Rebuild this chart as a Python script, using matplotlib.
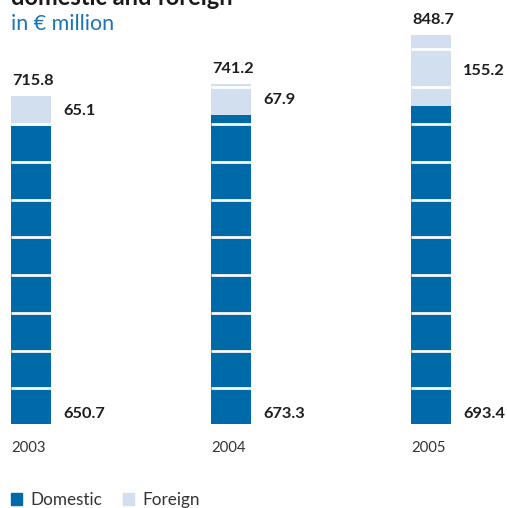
import matplotlib
matplotlib.use("Agg")
import matplotlib.pyplot as plt
from matplotlib.patches import Patch

plt.rcParams['font.family'] = ['Lato', 'DejaVu Sans']

years = ["2003", "2004", "2005"]
domestic = [650.7, 673.3, 693.4]
foreign = [65.1, 67.9, 155.2]
totals = [715.8, 741.2, 848.7]

DARK = "#0069a8"
LIGHT = "#d2dfee"
TXT = "#1e1e1e"

W, H = 507, 508
fig = plt.figure(figsize=(W / 100, H / 100), dpi=100)
base_px = 424
scale = 0.4584  # px per unit
ax = fig.add_axes([0, (H - base_px) / H, 1, base_px / H])
ax.set_xlim(-31 / 200, (W - 31) / 200)
ax.set_ylim(0, base_px / scale)
ax.axis("off")

x = list(range(len(years)))
bw = 0.2
b1 = ax.bar(x, domestic, width=bw, color=DARK, label="Domestic", zorder=1)
b2 = ax.bar(x, foreign, width=bw, bottom=domestic, color=LIGHT, label="Foreign", zorder=1)

# white separators across bars
gap_offset, gap_step = 78.1, 82.2
for xi, tot in zip(x, totals):
    ys = [gap_offset + gap_step * k for k in range(12) if gap_offset + gap_step * k < tot]
    ax.hlines(ys, xi - bw / 2, xi + bw / 2, color="white", lw=1.95, zorder=2)

NUM_FS = 11.8
for xi, d, f, t, yr in zip(x, domestic, foreign, totals, years):
    ax.annotate(f"{t:.1f}", xy=(xi - bw / 2, t), xytext=(1, 11), textcoords="offset pixels",
                ha="left", va="baseline", fontsize=NUM_FS, fontweight="bold", color=TXT,
                annotation_clip=False)
    ax.annotate(f"{f:.1f}", xy=(xi + bw / 2, d + f / 2), xytext=(12, 0), textcoords="offset pixels",
                ha="left", va="center", fontsize=NUM_FS, fontweight="bold", color=TXT,
                annotation_clip=False)
    ax.annotate(f"{d:.1f}", xy=(xi + bw / 2, 0), xytext=(12, 6), textcoords="offset pixels",
                ha="left", va="baseline", fontsize=NUM_FS, fontweight="bold", color=TXT,
                annotation_clip=False)
    ax.annotate(yr, xy=(xi - bw / 2, 0), xytext=(0, -28), textcoords="offset pixels",
                ha="left", va="baseline", fontsize=10.7, color="#333333",
                annotation_clip=False)

fig.text(11 / W, 1 - 5 / H, "domestic and foreign", ha="left", va="baseline",
         fontsize=17, fontweight="bold", color="#1a1a1a")
fig.text(11 / W, 1 - 30.5 / H, "in € million", ha="left", va="baseline",
         fontsize=15.5, color="#1b75b5")

handles = [Patch(color=DARK, label="Domestic"), Patch(color=LIGHT, label="Foreign")]
fig.legend(handles=handles, loc="lower left", bbox_to_anchor=(11 / W, 0.0), ncol=2,
           frameon=False, fontsize=12.3, handlelength=0.64, handleheight=0.64,
           handletextpad=0.47, columnspacing=1.25, borderpad=0.0, borderaxespad=0,
           labelcolor="#333333")

fig.savefig("out.png", dpi=100)
